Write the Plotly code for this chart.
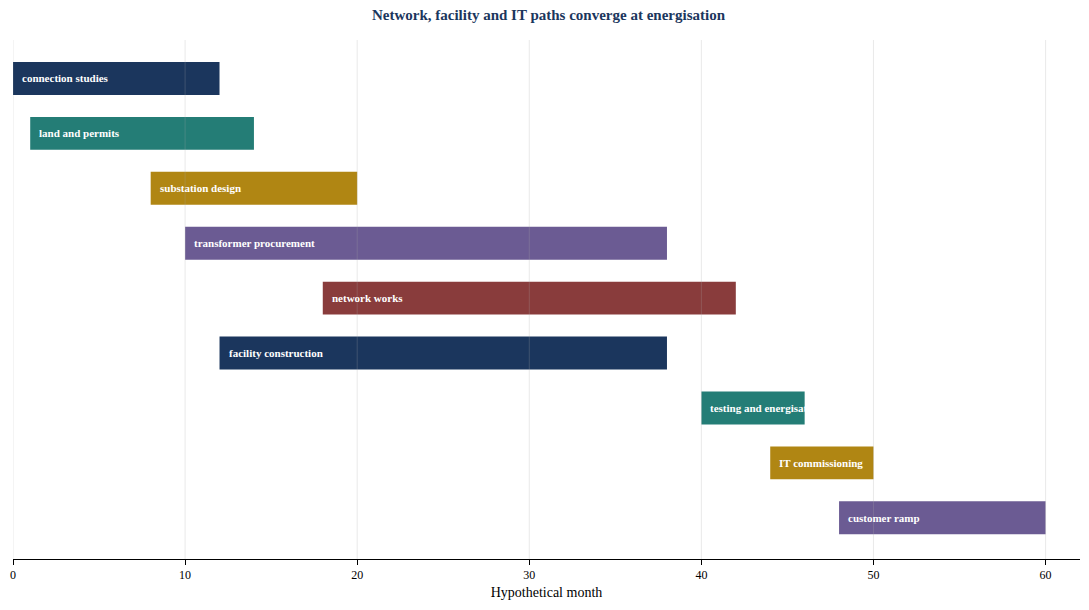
"""Gantt-style timeline of the energisation paths."""

import plotly.graph_objects as go

tasks = [
    "connection studies",
    "land and permits",
    "substation design",
    "transformer procurement",
    "network works",
    "facility construction",
    "testing and energisation",
    "IT commissioning",
    "customer ramp",
]
start_month = [0, 1, 8, 10, 18, 12, 40, 44, 48]
end_month = [12, 14, 20, 38, 42, 38, 46, 50, 60]
month_ticks = [0, 10, 20, 30, 40, 50, 60]
palette = ["#1b365d", "#247d76", "#b08613", "#6b5b93", "#893c3c"]

durations = [e - s for s, e in zip(start_month, end_month)]
colors = [palette[i % len(palette)] for i in range(len(tasks))]
serif = "Liberation Serif, Times New Roman, serif"

fig = go.Figure(
    go.Bar(
        y=tasks,
        x=durations,
        base=start_month,
        orientation="h",
        width=0.6,
        marker=dict(color=colors, line=dict(width=0)),
        hoverinfo="skip",
    )
)

for task, s in zip(tasks, start_month):
    fig.add_annotation(
        x=s, y=task, text=f"<b>{task}</b>", showarrow=False,
        xanchor="left", xshift=7, font=dict(family=serif, size=11, color="white"),
    )

# grid drawn over the bars, as in the original
for m in month_ticks:
    fig.add_shape(
        type="line", xref="x", yref="paper", x0=m, x1=m, y0=0, y1=1,
        line=dict(color="rgba(170,170,170,0.25)", width=1), layer="above",
    )

fig.update_layout(
    width=1081,
    height=602,
    margin=dict(l=5, r=9, t=32, b=51, autoexpand=False),
    plot_bgcolor="white",
    paper_bgcolor="white",
    font=dict(family=serif, size=12, color="black"),
    showlegend=False,
    title=dict(
        text="<b>Network, facility and IT paths converge at energisation</b>",
        x=0.5, xanchor="center", y=1 - 7 / 602, yanchor="middle",
        font=dict(family=serif, size=15, color="#1b365d"),
    ),
    xaxis=dict(
        range=[0, 62],
        tickvals=month_ticks,
        automargin=False,
        showgrid=False,
        zeroline=False,
        showline=True,
        linecolor="black",
        linewidth=1,
        ticks="outside",
        ticklen=5,
        tickcolor="black",
        title=dict(text="Hypothetical month", font=dict(size=14), standoff=5),
    ),
    yaxis=dict(
        type="category",
        range=[8.75, -0.7],
        automargin=False,
        showticklabels=False,
        showgrid=False,
        zeroline=False,
        showline=False,
    ),
)

fig.write_html("out.html")
